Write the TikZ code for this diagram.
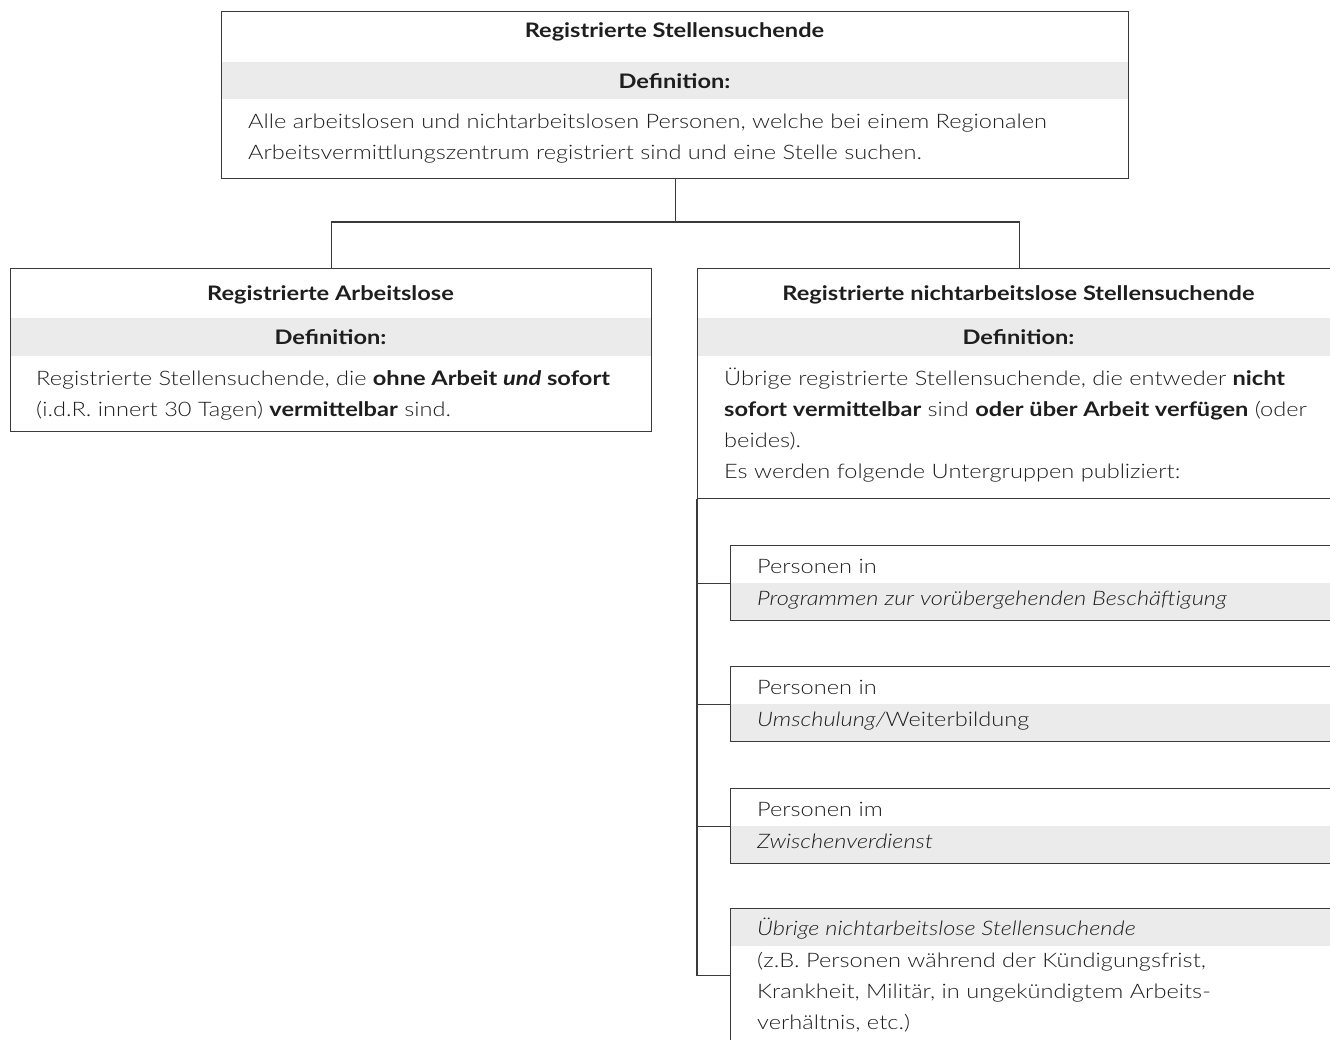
\documentclass[tikz,border=0pt]{standalone}
\usepackage{fontspec}
\setmainfont{Lato}[UprightFont=* Light, ItalicFont=* Light Italic, BoldFont=* Bold, BoldItalicFont=* Bold Italic, FakeStretch=1.18]
\usetikzlibrary{calc}
\definecolor{linec}{HTML}{3A3A3A}
\definecolor{bandc}{HTML}{EBEBEB}
\definecolor{textc}{HTML}{1E1E1E}
\tikzset{
  box/.style={draw=linec, line width=1.3pt, inner sep=0pt, anchor=north west},
  band/.style={fill=bandc},
  ttl/.style={font=\fontsize{20}{24}\selectfont\bfseries, text=textc, anchor=base, inner sep=0pt},
  deftxt/.style={font=\fontsize{20}{24}\selectfont\bfseries, text=textc, anchor=base, inner sep=0pt},
  body/.style={font=\fontsize{20}{31}\selectfont, text=textc, anchor=north west, inner sep=0pt, align=left},
  line/.style={font=\fontsize{20}{31}\selectfont, text=textc, anchor=base west, inner sep=0pt},
  conn/.style={draw=linec, line width=1.3pt}
}
\begin{document}
\begin{tikzpicture}[x=1pt,y=-1pt]
\useasboundingbox (0,0) rectangle (1330,1039);
% bands
\fill[band] (221,62) rectangle (1128,99);
\fill[band] (10,318) rectangle (651,356);
\fill[band] (697,318) rectangle (1340,356);
\fill[band] (730,583) rectangle (1340,620);
\fill[band] (730,704) rectangle (1340,741);
\fill[band] (730,826) rectangle (1340,863);
\fill[band] (730,908) rectangle (1340,946);
% boxes
\node[box, minimum width=907pt, minimum height=167pt] (T) at (221,11) {};
\node[box, minimum width=641pt, minimum height=163pt] (L) at (10,268) {};
\node[box, minimum width=643pt, minimum height=230pt] (R) at (697,268) {};
\node[box, minimum width=610pt, minimum height=75pt] (S1) at (730,545) {};
\node[box, minimum width=610pt, minimum height=75pt] (S2) at (730,666) {};
\node[box, minimum width=610pt, minimum height=75pt] (S3) at (730,788) {};
\node[box, minimum width=610pt, minimum height=134pt] (S4) at (730,908) {};
% connectors
\draw[conn] (T.south) -- ++(0,44);
\draw[conn] (L.north) -- ++(0,-46) -| (R.north);
\draw[conn] (R.south west) |- (S4.west);
\draw[conn] (S1.west) -- (S1.west -| R.west);
\draw[conn] (S2.west) -- (S2.west -| R.west);
\draw[conn] (S3.west) -- (S3.west -| R.west);
% top texts
\node[ttl] (Tt) at (674.5,37) {Registrierte Stellensuchende};
\node[deftxt] (Td) at (674.5,88) {Definition:};
\node[body] (Tb) at (248,106.3) {\strut Alle arbeitslosen und nichtarbeitslosen Personen, welche bei einem Regionalen\\Arbeitsvermittlungszentrum registriert sind und eine Stelle suchen.};
% left
\node[ttl] (Lt) at (330.5,300) {Registrierte Arbeitslose};
\node[deftxt] (Ld) at (330.5,344) {Definition:};
\node[body] (Lb) at (36,363.3) {\strut Registrierte Stellensuchende, die \textbf{ohne Arbeit \textit{und} sofort}\\(i.d.R. innert 30 Tagen) \textbf{vermittelbar} sind.};
% right
\node[ttl] (Rt) at (1018.5,300) {Registrierte nichtarbeitslose Stellensuchende};
\node[deftxt] (Rd) at (1018.5,344) {Definition:};
\node[body] (Rb) at (724,363.3) {\strut Übrige registrierte Stellensuchende, die entweder \textbf{nicht}\\\textbf{sofort vermittelbar} sind \textbf{oder über Arbeit verfügen} (oder\\beides).\\Es werden folgende Untergruppen publiziert:};
% subgroups
\node[line] (S1a) at (757,573) {Personen in};
\node[line] (S1b) at (757,605) {\textit{Programmen zur vorübergehenden Beschäftigung}};
\node[line] (S2a) at (757,694) {Personen in};
\node[line] (S2b) at (757,726) {\textit{Umschulung/}Weiterbildung};
\node[line] (S3a) at (757,816) {Personen im};
\node[line] (S3b) at (757,848) {\textit{Zwischenverdienst}};
\node[line] (S4a) at (757,935) {\textit{Übrige nichtarbeitslose Stellensuchende}};
\node[body] (S4b) at (757,945.3) {\strut (z.B. Personen während der Kündigungsfrist,\\Krankheit, Militär, in ungekündigtem Arbeits-\\verhältnis, etc.)};
\end{tikzpicture}
\end{document}
